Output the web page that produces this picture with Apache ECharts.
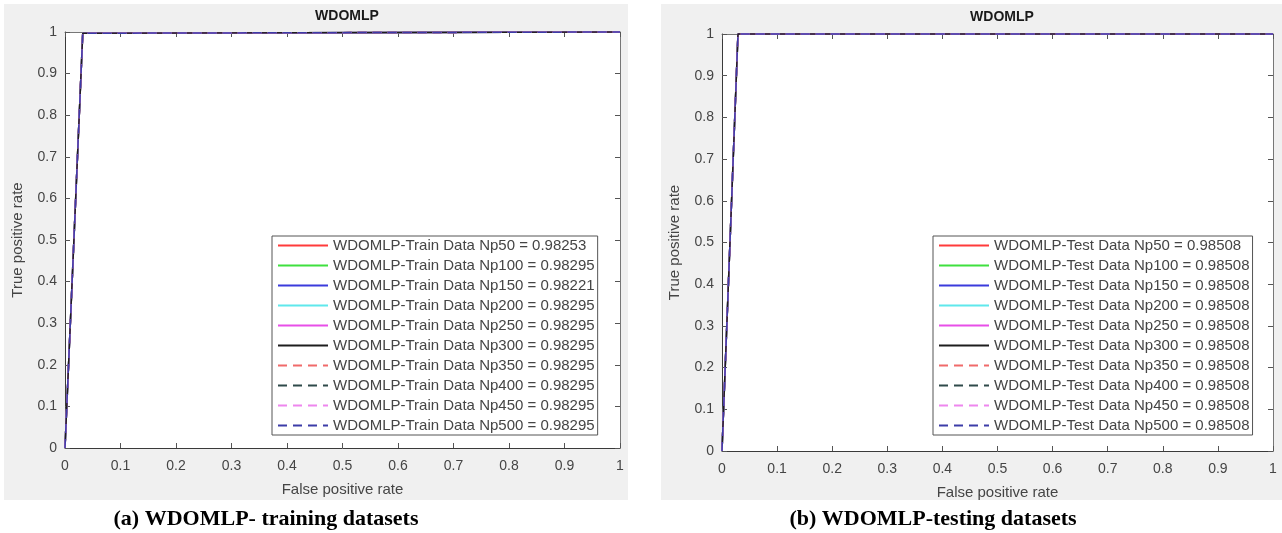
<!DOCTYPE html>
<html>
<head>
<meta charset="utf-8">
<script src="https://cdn.jsdelivr.net/npm/echarts@6/dist/echarts.min.js"></script>
<style>
html,body{margin:0;padding:0;background:#fff;}
#chart{width:1282px;height:533px;}
</style>
</head>
<body>
<div id="chart"></div>
<script>
// ---- data ----
const npValues = [50, 100, 150, 200, 250, 300, 350, 400, 450, 500];
const trainAuc = [0.98253, 0.98295, 0.98221, 0.98295, 0.98295, 0.98295, 0.98295, 0.98295, 0.98295, 0.98295];
const testAuc  = [0.98508, 0.98508, 0.98508, 0.98508, 0.98508, 0.98508, 0.98508, 0.98508, 0.98508, 0.98508];
const trainFpr = [0, 0.032, 1];
const trainTpr = [0, 0.997, 1];
const testFpr  = [0, 0.029, 1];
const testTpr  = [0, 1, 1];
const xTicks = [0, 0.1, 0.2, 0.3, 0.4, 0.5, 0.6, 0.7, 0.8, 0.9, 1];
const yTicks = [0, 0.1, 0.2, 0.3, 0.4, 0.5, 0.6, 0.7, 0.8, 0.9, 1];
const panelTitles = ['WDOMLP', 'WDOMLP'];
const captions = ['(a) WDOMLP- training datasets', '(b) WDOMLP-testing datasets'];
const xName = 'False positive rate';
const yName = 'True positive rate';

// ---- styles ----
const lineColors = ['#ff3b3b', '#3fe03f', '#3b3bdc', '#5fe8ec', '#e84ee8', '#1e1e1e', '#f06a6a', '#2f4a4a', '#ee86ee', '#3c3ca8'];
const lineTypes = ['solid','solid','solid','solid','solid','solid',[9,6],[9,6],[9,6],[9,6]];
const FONT = 'Liberation Sans';
const TXT = '#454545';

const chart = echarts.init(document.getElementById('chart'), null, {renderer: 'canvas'});

const grids = [
  {left: 65, top: 32, width: 555, height: 416, show: true, backgroundColor: '#fff', borderWidth: 0},
  {left: 722, top: 34, width: 551, height: 417, show: true, backgroundColor: '#fff', borderWidth: 0}
];

function mkX(gi, pos) {
  const main = pos === 'bottom';
  return {
    type: 'value', gridIndex: gi, position: pos, min: 0, max: 1, interval: 0.1,
    name: main ? xName : '', nameLocation: 'middle', nameGap: 34,
    nameTextStyle: {fontFamily: FONT, fontSize: 15, color: TXT},
    axisLine: {show: true, onZero: false, lineStyle: {color: main ? '#3a3a3a' : '#777', width: 1}},
    axisTick: {show: true, inside: true, length: 5, lineStyle: {color: '#555'}},
    axisLabel: {show: main, margin: 11, fontFamily: FONT, fontSize: 14, color: TXT,
      formatter: v => { const t = xTicks.find(k => Math.abs(k - v) < 1e-9); return t === undefined ? '' : String(t); }},
    splitLine: {show: false}
  };
}
function mkY(gi, pos) {
  const main = pos === 'left';
  return {
    type: 'value', gridIndex: gi, position: pos, min: 0, max: 1, interval: 0.1,
    name: main ? yName : '', nameLocation: 'middle', nameGap: 40,
    nameTextStyle: {fontFamily: FONT, fontSize: 15, color: TXT},
    axisLine: {show: true, onZero: false, lineStyle: {color: main ? '#3a3a3a' : '#777', width: 1}},
    axisTick: {show: true, inside: true, length: 5, lineStyle: {color: '#555'}},
    axisLabel: {show: main, margin: 8, fontFamily: FONT, fontSize: 14, color: TXT,
      formatter: v => { const t = yTicks.find(k => Math.abs(k - v) < 1e-9); return t === undefined ? '' : String(t); }},
    splitLine: {show: false}
  };
}

const xAxes = [mkX(0,'bottom'), mkX(0,'top'), mkX(1,'bottom'), mkX(1,'top')];
const yAxes = [mkY(0,'left'), mkY(0,'right'), mkY(1,'left'), mkY(1,'right')];

const series = [];
const legend0 = [], legend1 = [];
npValues.forEach((np, i) => {
  const n0 = 'WDOMLP-Train Data Np' + np + ' = ' + trainAuc[i].toFixed(5);
  legend0.push(n0);
  series.push({
    name: n0, type: 'line', xAxisIndex: 0, yAxisIndex: 0, symbol: 'none', clip: false,
    data: trainFpr.map((x, k) => [x, trainTpr[k]]),
    lineStyle: {color: lineColors[i], width: 1.5, type: lineTypes[i]},
    itemStyle: {color: lineColors[i]}, emphasis: {disabled: true}, silent: true
  });
});
npValues.forEach((np, i) => {
  const n1 = 'WDOMLP-Test Data Np' + np + ' = ' + testAuc[i].toFixed(5);
  legend1.push(n1);
  series.push({
    name: n1, type: 'line', xAxisIndex: 2, yAxisIndex: 2, symbol: 'none', clip: false,
    data: testFpr.map((x, k) => [x, testTpr[k]]),
    lineStyle: {color: lineColors[i], width: 1.5, type: lineTypes[i]},
    itemStyle: {color: lineColors[i]}, emphasis: {disabled: true}, silent: true
  });
});

function mkLegend(left, data) {
  return {
    orient: 'vertical', left: left, top: 236, data: data,
    itemWidth: 50, itemHeight: 15, itemGap: 5,
    padding: [2, 3, 2, 5],
    borderColor: '#555', borderWidth: 1, backgroundColor: '#fff',
    selectedMode: false,
    itemStyle: {opacity: 0, borderWidth: 0},
    lineStyle: {width: 2},
    textStyle: {fontFamily: FONT, fontSize: 15, color: TXT}
  };
}

const option = {
  animation: false,
  backgroundColor: '#fff',
  graphic: [
    {type: 'rect', z: -10, shape: {x: 4, y: 4, width: 624, height: 496}, style: {fill: '#f0f0f0'}, silent: true},
    {type: 'rect', z: -10, shape: {x: 661, y: 4, width: 621, height: 496}, style: {fill: '#f0f0f0'}, silent: true}
  ],
  title: [
    {text: panelTitles[0], left: 342, top: 4, textAlign: 'center', textStyle: {fontFamily: FONT, fontSize: 14, fontWeight: 'bold', color: '#1a1a1a'}},
    {text: panelTitles[1], left: 997, top: 5, textAlign: 'center', textStyle: {fontFamily: FONT, fontSize: 14, fontWeight: 'bold', color: '#1a1a1a'}},
    {text: captions[0], left: 261, top: 503, textAlign: 'center', textStyle: {fontFamily: 'Liberation Serif', fontSize: 22, fontWeight: 'bold', color: '#000'}},
    {text: captions[1], left: 928, top: 503, textAlign: 'center', textStyle: {fontFamily: 'Liberation Serif', fontSize: 22, fontWeight: 'bold', color: '#000'}}
  ],
  grid: grids,
  xAxis: xAxes,
  yAxis: yAxes,
  legend: [mkLegend(272, legend0), mkLegend(933, legend1)],
  series: series
};
chart.setOption(option);
</script>
</body>
</html>
